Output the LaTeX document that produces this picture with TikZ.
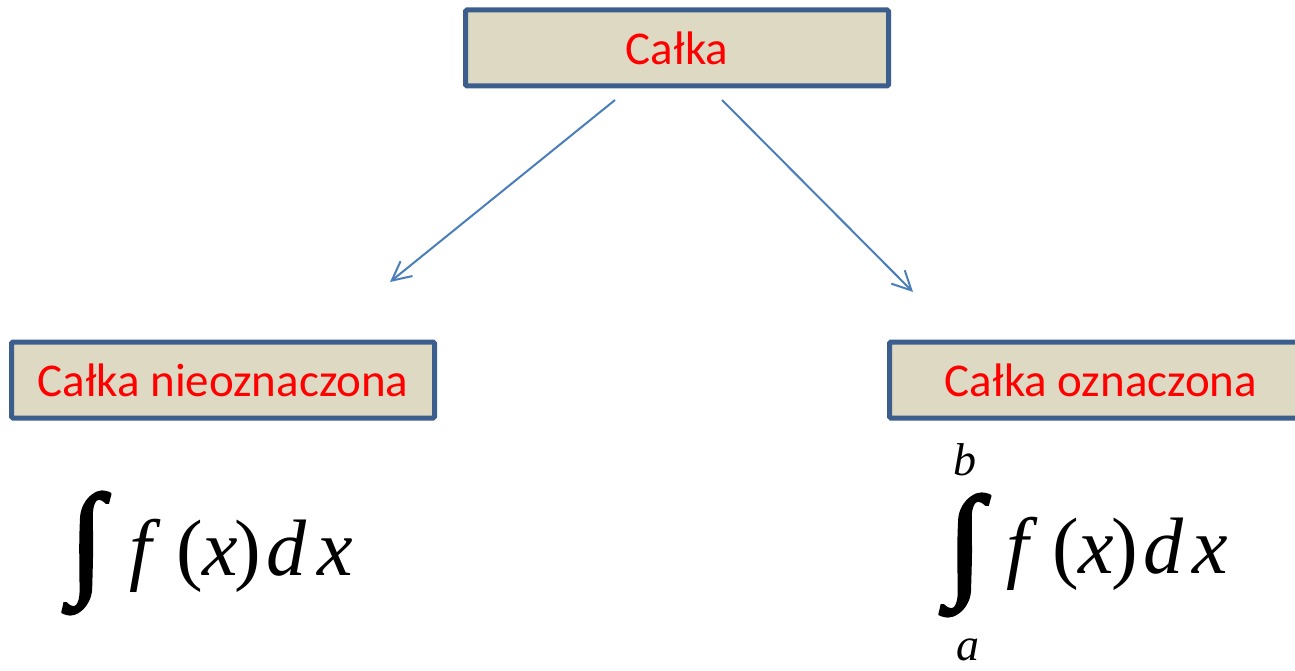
\documentclass[tikz,border=0pt]{standalone}
\usepackage{fontspec}
\usepackage{graphicx}
\setmainfont{Carlito}
\newfontfamily\formulafont{Liberation Serif}
\newfontfamily\formulaitalic{Liberation Serif Italic}
\newfontfamily\integralfont[FakeBold=2.5]{Liberation Serif}
\usetikzlibrary{arrows.meta}
\definecolor{boxfill}{HTML}{DDD9C3}
\definecolor{boxline}{HTML}{3B5E8D}
\definecolor{arrowblue}{HTML}{4A7EBB}
\begin{document}
\begin{tikzpicture}[x=1pt,y=-1pt,
  labelbox/.style={draw=boxline, fill=boxfill, line width=5pt,
    minimum width=423pt, minimum height=76pt, inner sep=0pt,
    text=red, font=\fontsize{47}{56}\selectfont, rounded corners=1.5pt},
  link/.style={draw=arrowblue, line width=2pt,
    -{Straight Barb[length=19pt,width=19pt,line width=2pt]}},
  glyph/.style={inner sep=0pt, anchor=base,
    font={\formulaitalic\fontsize{80}{92}\selectfont}},
  paren/.style={inner sep=0pt, anchor=base,
    font={\formulafont\fontsize{80}{92}\selectfont}},
  limit/.style={inner sep=0pt,
    font={\formulaitalic\fontsize{46}{54}\selectfont}},
  intsign/.style={inner sep=0pt, font=\integralfont}
]
\useasboundingbox (0,0) rectangle (1295,671);

% boxes
\node[labelbox] (top)   at (677,48)  {Całka};
\node[labelbox] (left)  at (223,380) {Całka nieoznaczona};
\node[labelbox] (right) at (1101,380) {Całka oznaczona};

% arrows
\coordinate (s1) at (615,100);
\coordinate (e1) at (390,282);
\coordinate (s2) at (722,100);
\coordinate (e2) at (913,292);
\draw[link] (s1) -- (e1);
\draw[link] (s2) -- (e2);

% indefinite integral
\node[intsign] (li) at (86.5,553)
  {\resizebox*{34pt}{122pt}{∫}};
\node[glyph] (lf)  at (141,575) {f};
\node[paren] (lp1) at (190,575) {(};
\node[glyph] (lx)  at (220,575) {x};
\node[paren] (lp2) at (248,575) {)};
\node[glyph] (ld)  at (286,575) {d};
\node[glyph] (lx2) at (335,575) {x};

% definite integral
\node[intsign] (ri) at (965,555)
  {\resizebox*{36pt}{122pt}{∫}};
\node[limit] (rb) at (965,460) {b};
\node[limit] (ra) at (967.5,650) {a};
\node[glyph] (rf)  at (1018,573) {f};
\node[paren] (rp1) at (1066,573) {(};
\node[glyph] (rx)  at (1096,573) {x};
\node[paren] (rp2) at (1125,573) {)};
\node[glyph] (rd)  at (1163,573) {d};
\node[glyph] (rx2) at (1210,573) {x};
\end{tikzpicture}
\end{document}
